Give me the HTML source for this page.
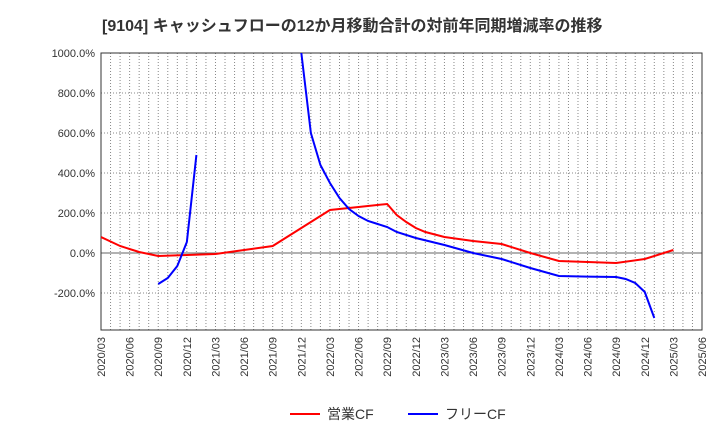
<!DOCTYPE html>
<html><head><meta charset="utf-8"><style>
body{margin:0;background:#fff;font-family:"Liberation Sans","Noto Sans CJK JP",sans-serif}
</style></head><body>
<svg id="chart" width="720" height="440" xmlns="http://www.w3.org/2000/svg">
<text x="102" y="31" font-size="16" font-weight="bold" fill="#333" font-family="Liberation Sans, Noto Sans CJK JP, sans-serif">[9104]  キャッシュフローの12か月移動合計の対前年同期増減率の推移</text>
<g id="grid"></g><g id="axes"></g><g id="series"></g>
<g>
<line x1="290" y1="414" x2="320" y2="414" stroke="#f00" stroke-width="2"/>
<text x="327" y="419" font-size="14" fill="#333">営業CF</text>
<line x1="408" y1="414" x2="438" y2="414" stroke="#00f" stroke-width="2"/>
<text x="445" y="419" font-size="14" fill="#333">フリーCF</text>
</g>
</svg>
<script>
const xTickLabels=["2020/03","2020/06","2020/09","2020/12","2021/03","2021/06","2021/09","2021/12","2022/03","2022/06","2022/09","2022/12","2023/03","2023/06","2023/09","2023/12","2024/03","2024/06","2024/09","2024/12","2025/03","2025/06"];
const yTicks=[-200,0,200,400,600,800,1000];
// month index from 2020/03
const opMonths=[0,2,4,6,9,12,15,18,21,24,27,30,31,32,33,34,36,39,42,45,48,51,54,57,60];
const opValues=[80,35,5,-15,-10,-5,15,35,125,215,230,245,190,155,125,105,80,60,45,0,-40,-45,-50,-30,15];
const fcfMonths1=[6,7,8,9,10];
const fcfValues1=[-155,-125,-65,55,490];
const fcfMonths2=[21,22,23,24,25,26,27,28,29,30,31,33,36,39,42,45,48,51,54,55,56,57,58];
const fcfValues2=[1000,600,440,350,275,220,185,160,145,130,105,75,40,0,-30,-75,-115,-118,-120,-130,-150,-195,-325];

const L=101,R=702,T=53,B=330,NM=63,YMAX=1000,YMIN=-385;
const xS=m=>L+m*(R-L)/NM;
const yS=v=>T+(YMAX-v)*(B-T)/(YMAX-YMIN);
const NS="http://www.w3.org/2000/svg";
function mk(tag,attrs,parent){const e=document.createElementNS(NS,tag);for(const k in attrs)e.setAttribute(k,attrs[k]);parent.appendChild(e);return e;}
const grid=document.getElementById('grid'),axes=document.getElementById('axes'),series=document.getElementById('series');
for(let m=1;m<NM;m++){
 const l=mk('line',{x1:xS(m),x2:xS(m),y1:T,y2:B,stroke:'#888','stroke-dasharray':'1,2'},grid);
 
 
}
yTicks.forEach(v=>{
 const l=mk('line',{x1:L,x2:R,y1:yS(v),y2:yS(v),stroke:v===0?'#666':'#888','stroke-dasharray':v===0?'':'1,2'},grid);
 
 
 const t=mk('text',{x:L-6,y:yS(v)+4,'text-anchor':'end','font-size':'11',fill:'#333'},axes);
 t.textContent=v.toFixed(1)+'%';
 
 
});
const frame=mk('rect',{x:L,y:T,width:R-L,height:B-T,fill:'none',stroke:'#333'},axes);


xTickLabels.forEach((s,i)=>{
 const x=xS(i*3);
 const t=mk('text',{x:0,y:0,transform:`translate(${x+4},337) rotate(-90)`,'text-anchor':'end','font-size':'11',fill:'#333'},axes);
 t.textContent=s;
 
 
});
const clip=mk('clipPath',{id:'pc'},series);mk('rect',{x:L,y:T,width:R-L,height:B-T},clip);
function line(ms,vs,color,name){
 const p=mk('polyline',{points:ms.map((m,i)=>xS(m)+','+yS(vs[i])).join(' '),fill:'none',stroke:color,'stroke-width':2,'clip-path':'url(#pc)'},series);
 
 
}
line(opMonths,opValues,'#f00','operating-cf-line');
line(fcfMonths1,fcfValues1,'#00f','free-cf-line-1');
line(fcfMonths2,fcfValues2,'#00f','free-cf-line-2');
</script>
</body></html>
